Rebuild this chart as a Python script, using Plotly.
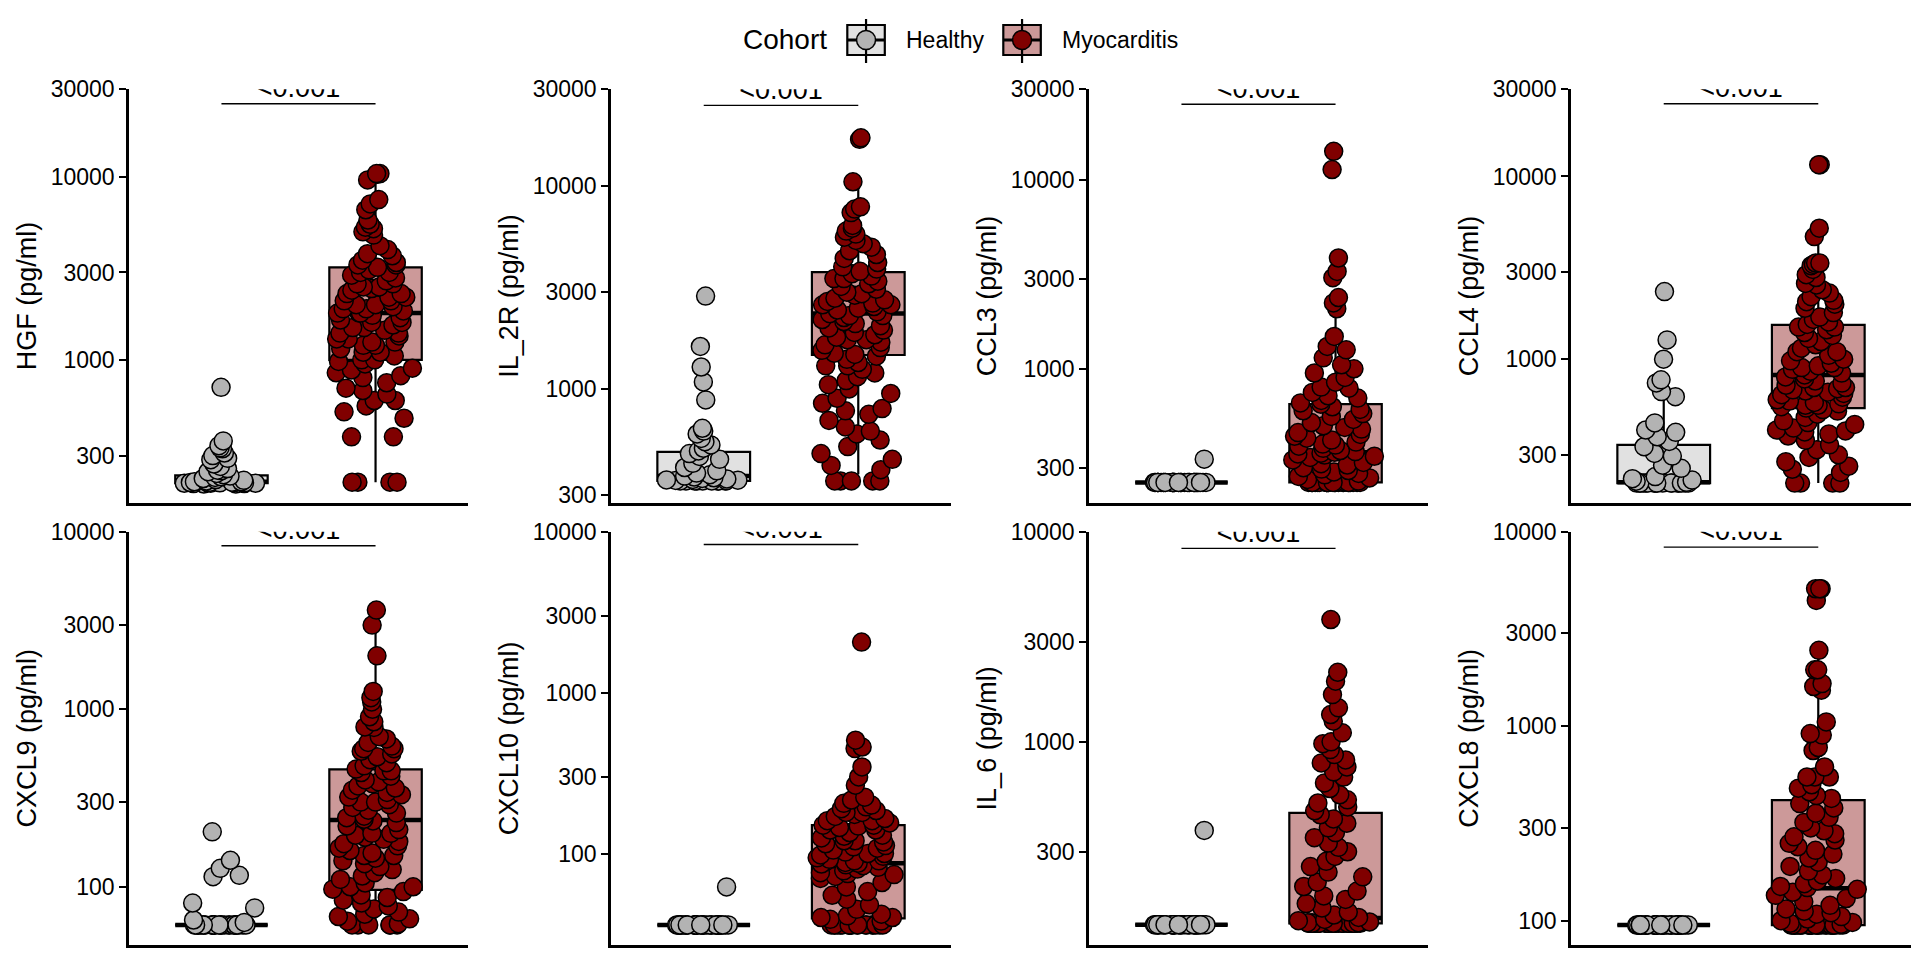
import math
import plotly.graph_objects as go

# ---------------- data (pg/ml) ----------------
cohorts = ["Healthy", "Myocarditis"]
analytes = ["HGF", "IL_2R", "CCL3", "CCL4", "CXCL9", "CXCL10", "IL_6", "CXCL8"]
p_labels = ["<0.001", "<0.001", "<0.001", "<0.001", "<0.001", "<0.001", "<0.001", "<0.001"]

# axis limits (bottom, top) and tick values per analyte
y_limits = [(166, 30000), (275, 30000), (196, 30000), (164, 30000),
            (47, 10000), (27, 10000), (108, 10000), (75, 10000)]
ticks_top = [300, 1000, 3000, 10000, 30000]
ticks_cxcl = [100, 300, 1000, 3000, 10000]
ticks_il6 = [300, 1000, 3000, 10000]

# box statistics: q1, median, q3, lower whisker, upper whisker
hgf_box_h = [212, 216, 234, 210, 265]
hgf_box_m = [1000, 1800, 3200, 215, 10400]
il2r_box_h = [352, 372, 490, 352, 640]
il2r_box_m = [1470, 2355, 3770, 380, 10570]
ccl3_box_h = [251, 251, 251, 251, 251]
ccl3_box_m = [251, 362, 650, 251, 2380]
ccl4_box_h = [210, 212, 340, 210, 665]
ccl4_box_m = [540, 820, 1540, 210, 5210]
cxcl9_box_h = [61, 61, 61, 61, 61]
cxcl9_box_m = [96, 238, 458, 61, 3620]
cxcl10_box_h = [36, 36, 36, 36, 36]
cxcl10_box_m = [39.5, 87, 150, 36, 506]
il6_box_h = [135, 135, 135, 135, 135]
il6_box_m = [137, 145, 459, 137, 1950]
cxcl8_box_h = [95, 95, 95, 95, 95]
cxcl8_box_m = [95, 147, 417, 95, 2455]

# individual samples
hgf_h = [708, 361, 340, 331, 327, 310, 300, 290, 285, 270, 262, 255, 250, 248, 245, 240, 236, 232, 230, 228,
         225, 222, 220, 218, 216, 216, 215, 215, 214, 214, 214, 213, 213, 212, 212, 212, 211, 211, 210, 210]
hgf_m = [10400, 10400, 10300, 9600, 7500, 7100, 6600, 5800, 5500, 5300,
         5200, 5000, 4800, 4200, 4000, 3800, 3700, 3500, 3400, 3300,
         3300, 3200, 3100, 3000, 3000, 2900, 2800, 2700, 2600, 2600,
         2500, 2500, 2450, 2400, 2300, 2300, 2200, 2200, 2100, 2100,
         2000, 2000, 1950, 1900, 1900, 1850, 1800, 1800, 1800, 1750,
         1700, 1650, 1600, 1600, 1550, 1500, 1500, 1450, 1400, 1400,
         1350, 1300, 1300, 1250, 1250, 1200, 1200, 1150, 1100, 1100,
         1050, 1000, 1000, 980, 950, 900, 880, 850, 820, 800,
         750, 700, 680, 650, 600, 600, 560, 520, 480, 380,
         380, 215, 215, 215, 215]
il2r_h = [2870, 1620, 1283, 1083, 883, 640, 620, 600, 570, 550, 530, 510, 495, 480, 465, 450, 430, 410, 395, 385,
          378, 372, 368, 365, 362, 360, 358, 356, 355, 354, 353, 352, 352, 352, 352, 352, 352, 352, 352, 352]
il2r_m = [17000, 17300, 10500, 7900, 7700, 7400, 6400, 6200, 6000, 5800,
          5600, 5400, 5200, 5000, 4800, 4600, 4400, 4200, 4000, 3900,
          3800, 3700, 3600, 3500, 3500, 3400, 3300, 3200, 3100, 3000,
          2950, 2900, 2800, 2750, 2700, 2650, 2600, 2600, 2550, 2500,
          2450, 2400, 2350, 2300, 2300, 2250, 2200, 2150, 2100, 2050,
          2000, 1950, 1900, 1850, 1800, 1750, 1750, 1700, 1650, 1600,
          1550, 1500, 1480, 1450, 1400, 1350, 1300, 1300, 1250, 1200,
          1150, 1100, 1050, 1000, 950, 900, 850, 800, 780, 750,
          700, 650, 620, 600, 560, 520, 480, 450, 420, 400,
          352, 352, 352, 352, 352]
ccl3_h = [333, 251, 251, 251, 251, 251, 251, 251, 251, 251, 251, 251, 251, 251, 251, 251, 251, 251, 251, 251,
          251, 251, 251, 251, 251, 251, 251, 251, 251, 251, 251, 251, 251, 251, 251, 251, 251, 251, 251, 251]
ccl3_m = [14100, 11300, 3850, 3270, 3030, 2380, 2230, 2076, 1482, 1312,
          1260, 1143, 1050, 1000, 950, 900, 850, 800, 790, 750,
          720, 700, 680, 660, 650, 630, 610, 600, 580, 560,
          540, 520, 500, 490, 480, 460, 450, 440, 430, 420,
          410, 400, 395, 390, 380, 370, 365, 362, 358, 355,
          350, 345, 340, 330, 320, 315, 310, 300, 295, 290,
          285, 280, 275, 270, 265, 260, 255, 251, 251, 251,
          251, 251, 251, 251, 251, 251, 251, 251, 251, 251,
          251, 251, 251, 251, 251, 251, 251, 251, 251, 251,
          251, 251, 251, 251, 251]
ccl4_h = [2345, 1275, 1000, 771, 742, 665, 624, 448, 410, 398, 377, 355, 332, 305, 295, 263, 253, 228, 222, 218,
          215, 212, 210, 210, 210, 210, 210, 210, 210, 210, 210, 210, 210, 210, 210, 210, 210, 210, 210, 210]
ccl4_m = [11600, 11600, 5210, 4690, 3360, 3360, 3300, 3250, 3100, 2900,
          2800, 2600, 2550, 2400, 2300, 2200, 2100, 2065, 2000, 1900,
          1800, 1700, 1650, 1600, 1550, 1500, 1500, 1450, 1400, 1350,
          1300, 1250, 1200, 1150, 1100, 1100, 1050, 1000, 980, 950,
          920, 900, 900, 880, 860, 840, 820, 800, 780, 760,
          740, 720, 700, 700, 690, 680, 670, 660, 650, 640,
          620, 600, 590, 580, 570, 560, 560, 550, 540, 530,
          520, 500, 480, 460, 450, 440, 420, 410, 405, 400,
          390, 380, 360, 340, 320, 300, 290, 275, 260, 250,
          240, 210, 210, 210, 210]
cxcl9_h = [204, 141, 127, 116, 114, 81, 76, 65, 63, 61, 61, 61, 61, 61, 61, 61, 61, 61, 61, 61,
           61, 61, 61, 61, 61, 61, 61, 61, 61, 61, 61, 61, 61, 61, 61, 61, 61, 61, 61, 61]
cxcl9_m = [3620, 2980, 2000, 1260, 1162, 1100, 1000, 907, 850, 795,
           790, 700, 680, 650, 620, 600, 600, 580, 560, 540,
           520, 500, 480, 460, 450, 450, 440, 420, 400, 390,
           380, 370, 360, 350, 340, 330, 320, 310, 300, 300,
           290, 280, 270, 260, 250, 245, 240, 235, 230, 220,
           210, 200, 200, 195, 190, 185, 180, 175, 170, 165,
           160, 155, 150, 150, 145, 140, 135, 130, 125, 120,
           115, 110, 105, 100, 100, 97, 94, 90, 87, 84,
           81, 78, 75, 72, 70, 68, 66, 64, 62, 61,
           61, 61, 61, 61, 61]
cxcl10_h = [62, 36, 36, 36, 36, 36, 36, 36, 36, 36, 36, 36, 36, 36, 36, 36, 36, 36, 36, 36,
            36, 36, 36, 36, 36, 36, 36, 36, 36, 36, 36, 36, 36, 36, 36, 36, 36, 36, 36, 36]
cxcl10_m = [2060, 506, 459, 449, 345, 299, 266, 224, 215, 205,
            200, 195, 190, 185, 180, 180, 175, 170, 165, 160,
            160, 155, 150, 150, 148, 145, 140, 140, 135, 130,
            128, 125, 120, 120, 118, 115, 112, 110, 108, 105,
            102, 100, 100, 98, 96, 94, 92, 90, 90, 88,
            87, 86, 85, 84, 82, 80, 78, 76, 75, 74,
            72, 70, 66, 62, 58, 55, 52, 48, 45, 42,
            41, 40, 40, 39, 38, 36, 36, 36, 36, 36,
            36, 36, 36, 36, 36, 36, 36, 36, 36, 36,
            36, 36, 36, 36, 36]
il6_h = [379, 135, 135, 135, 135, 135, 135, 135, 135, 135, 135, 135, 135, 135, 135, 135, 135, 135, 135, 135,
         135, 135, 135, 135, 135, 135, 135, 135, 135, 135, 135, 135, 135, 135, 135, 135, 135, 135, 135, 135]
il6_m = [3820, 2143, 1945, 1679, 1452, 1349, 1254, 1104, 1000, 980,
         919, 870, 820, 794, 760, 720, 680, 638, 600, 560,
         530, 512, 490, 470, 450, 430, 410, 390, 370, 350,
         330, 315, 300, 285, 270, 255, 240, 228, 215, 205,
         195, 185, 178, 170, 162, 155, 150, 146, 143, 141,
         139, 138, 138, 137, 137, 137, 137, 137, 137, 137,
         137, 137, 137, 137, 137, 137, 137, 137, 137, 137,
         137, 137, 137, 137, 137, 137, 137, 137, 137, 137,
         137, 137, 137, 137, 137, 137, 137, 137, 137, 137,
         137, 137, 137, 137, 137]
cxcl8_h = [95, 95, 95, 95, 95, 95, 95, 95, 95, 95, 95, 95, 95, 95, 95, 95, 95, 95, 95, 95,
           95, 95, 95, 95, 95, 95, 95, 95, 95, 95, 95, 95, 95, 95, 95, 95, 95, 95, 95, 95]
cxcl8_m = [5090, 5090, 5090, 4430, 2455, 1950, 1950, 1656, 1600, 1531,
           1052, 916, 900, 777, 750, 617, 548, 548, 548, 500,
           480, 460, 440, 425, 400, 380, 357, 340, 320, 300,
           290, 280, 270, 260, 250, 240, 230, 220, 210, 200,
           190, 180, 172, 165, 160, 155, 150, 148, 145, 140,
           135, 130, 125, 120, 115, 112, 110, 108, 105, 102,
           100, 98, 97, 96, 95, 95, 95, 95, 95, 95,
           95, 95, 95, 95, 95, 95, 95, 95, 95, 95,
           95, 95, 95, 95, 95, 95, 95, 95, 95, 95,
           95, 95, 95, 95, 95]

# ---------------- assemble ----------------
panels = [
    (hgf_h, hgf_m, hgf_box_h, hgf_box_m, ticks_top),
    (il2r_h, il2r_m, il2r_box_h, il2r_box_m, ticks_top),
    (ccl3_h, ccl3_m, ccl3_box_h, ccl3_box_m, ticks_top),
    (ccl4_h, ccl4_m, ccl4_box_h, ccl4_box_m, ticks_top),
    (cxcl9_h, cxcl9_m, cxcl9_box_h, cxcl9_box_m, ticks_cxcl),
    (cxcl10_h, cxcl10_m, cxcl10_box_h, cxcl10_box_m, ticks_cxcl),
    (il6_h, il6_m, il6_box_h, il6_box_m, ticks_il6),
    (cxcl8_h, cxcl8_m, cxcl8_box_h, cxcl8_box_m, ticks_cxcl),
]

W, H = 1920, 960
FONT = "Liberation Sans, Arial, Helvetica, sans-serif"
point_colors = ["#b3b3b3", "#800000"]
box_fills = ["#e1e1e1", "#cc9999"]
col_px = [(129, 468), (611, 951), (1089, 1428), (1571, 1911)]
row_px = [(89.3, 502.7), (531.7, 945.0)]
BOXW = 0.6
JIT_STACK = 0.6
JIT_REST = 0.95


def px_x(v):
    return v / W


def px_y(v):
    return 1 - v / H


fig = go.Figure()
layout_axes = {}

for i, (vals_h, vals_m, st_h, st_m, tks) in enumerate(panels):
    r, c = divmod(i, 4)
    n = i + 1
    xa = "x" if n == 1 else f"x{n}"
    ya = "y" if n == 1 else f"y{n}"
    groups = [(vals_h, st_h), (vals_m, st_m)]
    for k, (vals, st) in enumerate(groups):
        q1, med, q3, lo, hi = st
        # box with whiskers
        fig.add_trace(go.Box(
            x=[k], q1=[q1], median=[med], q3=[q3], lowerfence=[lo], upperfence=[hi],
            width=BOXW, whiskerwidth=0, fillcolor=box_fills[k], boxpoints=False,
            line=dict(color="black", width=2.2), xaxis=xa, yaxis=ya,
            showlegend=False, hoverinfo="skip"))
        # thick median bar
        fig.add_trace(go.Box(
            x=[k], q1=[med], median=[med], q3=[med], lowerfence=[med], upperfence=[med],
            width=BOXW, whiskerwidth=0, fillcolor="rgba(0,0,0,0)", boxpoints=False,
            line=dict(color="black", width=4.5), xaxis=xa, yaxis=ya,
            showlegend=False, hoverinfo="skip"))
        # jittered samples: the stack at the detection limit and the rest
        vmin = min(vals)
        stack = [v for v in vals if v == vmin]
        rest = [v for v in vals if v != vmin]
        for part, jit in ((stack, JIT_STACK), (rest, JIT_REST)):
            if not part:
                continue
            fig.add_trace(go.Box(
                x=[k] * len(part), y=part, boxpoints="all", jitter=jit, pointpos=0,
                width=BOXW, fillcolor="rgba(0,0,0,0)", line=dict(color="rgba(0,0,0,0)", width=0),
                marker=dict(color=point_colors[k], size=18, opacity=1,
                            line=dict(color="black", width=1.5)),
                xaxis=xa, yaxis=ya, showlegend=False, hoverinfo="y", name=cohorts[k]))
    ylo, yhi = y_limits[i]
    yb = yhi / 1.2
    fig.add_trace(go.Scatter(
        x=[0, 1], y=[yb, yb], mode="lines", line=dict(color="black", width=1.4),
        xaxis=xa, yaxis=ya, showlegend=False, hoverinfo="skip"))
    fig.add_trace(go.Scatter(
        x=[0.5], y=[yb], mode="text", text=[p_labels[i]], textposition="top center",
        textfont=dict(size=27, color="black", family=FONT), cliponaxis=True,
        xaxis=xa, yaxis=ya, showlegend=False, hoverinfo="skip"))

    x0, x1 = col_px[c]
    yt, ybm = row_px[r]
    layout_axes["xaxis" if n == 1 else f"xaxis{n}"] = dict(
        domain=[px_x(x0), px_x(x1)], range=[-0.6, 1.6], anchor=ya,
        showline=True, linecolor="black", linewidth=2.5, showgrid=False, zeroline=False,
        showticklabels=False, ticks="", fixedrange=True)
    layout_axes["yaxis" if n == 1 else f"yaxis{n}"] = dict(
        domain=[px_y(ybm), px_y(yt)], type="log",
        range=[math.log10(ylo), math.log10(yhi)], anchor=xa,
        tickmode="array", tickvals=tks, ticktext=[str(t) for t in tks],
        ticks="outside", ticklen=7, tickwidth=2.3, tickcolor="black",
        showline=True, linecolor="black", linewidth=2.5, showgrid=False, zeroline=False,
        tickfont=dict(size=23, color="black", family=FONT),
        title=dict(text=f"{analytes[i]} (pg/ml)", font=dict(size=27, color="black", family=FONT),
                   standoff=7),
        automargin=False, fixedrange=True)

# ---------------- legend (drawn) ----------------
shapes = []
annotations = []
annotations.append(dict(x=px_x(741), y=px_y(39.5), xref="paper", yref="paper", text="Cohort",
                        showarrow=False, xanchor="left", yanchor="middle",
                        font=dict(size=28, color="black", family=FONT)))
legend_left = [847.3, 1003.3]
label_left = [904, 1060]
for k in range(2):
    lx0 = legend_left[k]
    lx1 = lx0 + 37.5
    cx = (lx0 + lx1) / 2
    shapes.append(dict(type="rect", xref="paper", yref="paper",
                       x0=px_x(lx0), x1=px_x(lx1), y0=px_y(55), y1=px_y(25),
                       fillcolor=box_fills[k], line=dict(color="black", width=2.2)))
    shapes.append(dict(type="line", xref="paper", yref="paper",
                       x0=px_x(cx), x1=px_x(cx), y0=px_y(63), y1=px_y(19),
                       line=dict(color="black", width=2.2)))
    shapes.append(dict(type="line", xref="paper", yref="paper",
                       x0=px_x(lx0), x1=px_x(lx1), y0=px_y(40), y1=px_y(40),
                       line=dict(color="black", width=3)))
    shapes.append(dict(type="circle", xref="paper", yref="paper",
                       x0=px_x(cx - 9.5), x1=px_x(cx + 9.5), y0=px_y(49.5), y1=px_y(30.5),
                       fillcolor=point_colors[k], line=dict(color="black", width=1.5)))
    annotations.append(dict(x=px_x(label_left[k]), y=px_y(40), xref="paper", yref="paper",
                            text=cohorts[k], showarrow=False, xanchor="left", yanchor="middle",
                            font=dict(size=23, color="black", family=FONT)))

fig.update_layout(
    width=W, height=H, margin=dict(l=0, r=0, t=0, b=0, autoexpand=False),
    paper_bgcolor="white", plot_bgcolor="white", boxmode="overlay", showlegend=False,
    font=dict(family=FONT, color="black"),
    shapes=shapes, annotations=annotations, **layout_axes)

fig.write_html("out.html", config={"displayModeBar": False},
               post_script="document.body.style.margin='0';document.body.style.overflow='hidden';")
